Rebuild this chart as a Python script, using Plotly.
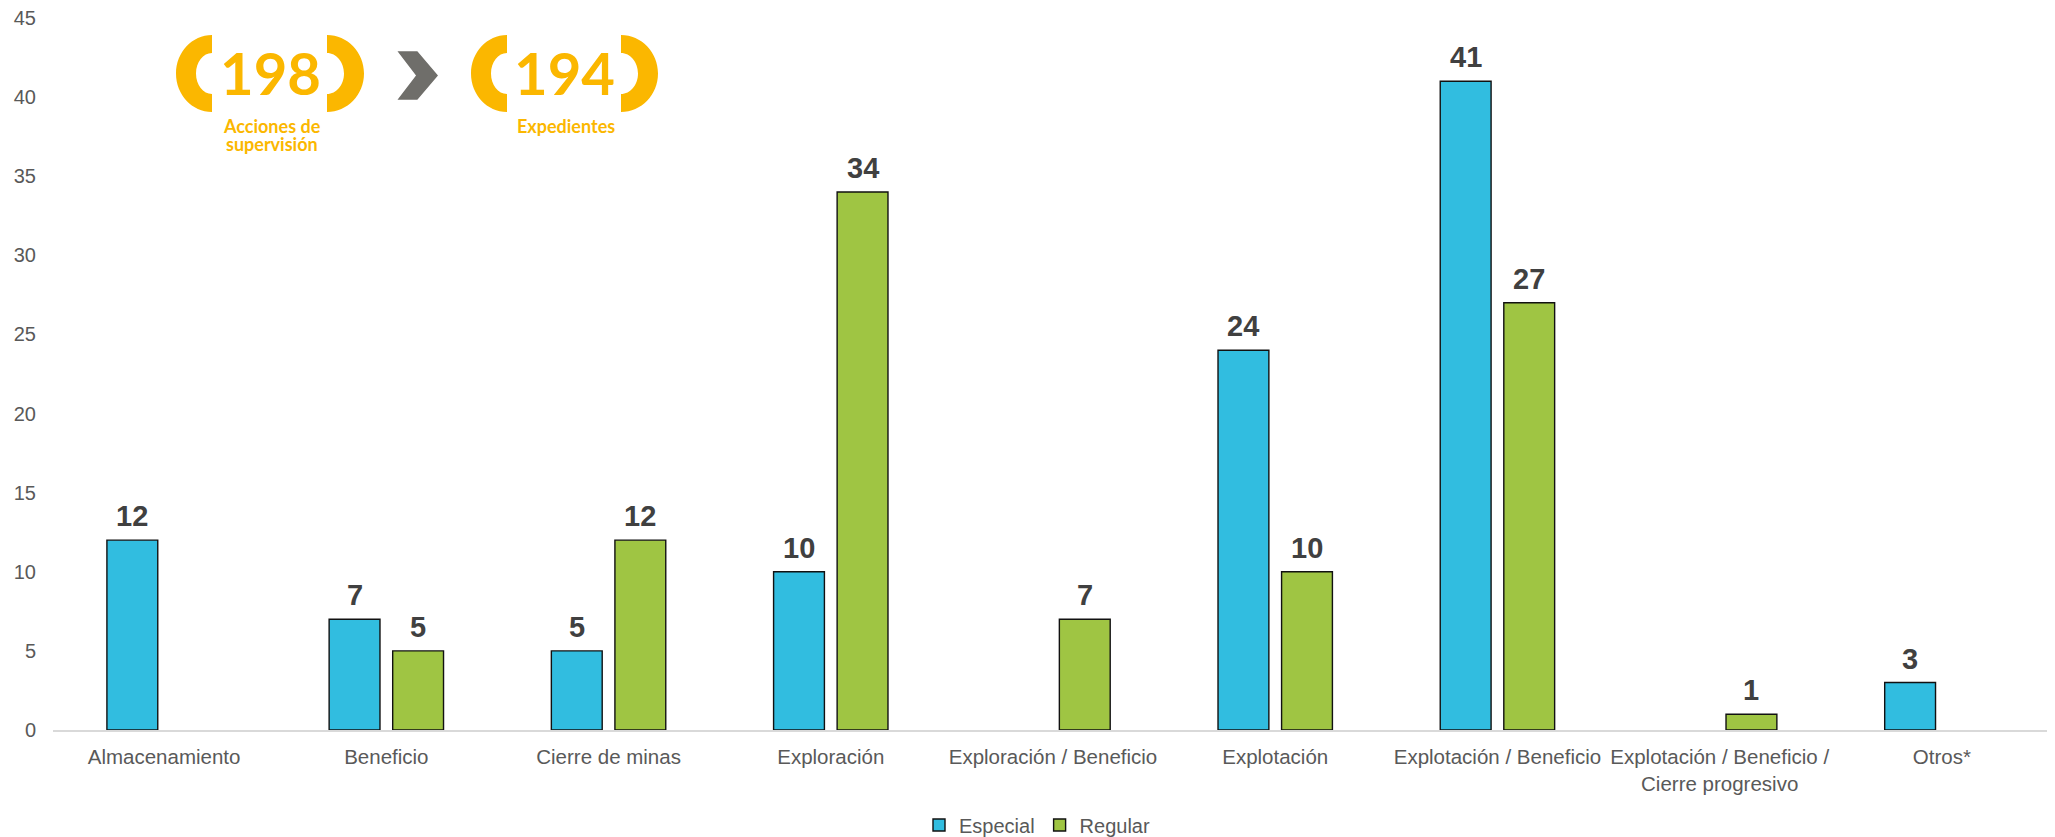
import plotly.graph_objects as go

# ── Data ────────────────────────────────────────────────────
categories = [
    "Almacenamiento", "Beneficio", "Cierre de minas", "Exploración",
    "Exploración / Beneficio", "Explotación", "Explotación / Beneficio",
    "Explotación / Beneficio /<br>Cierre progresivo", "Otros*",
]
especial = [12, 7, 5, 10, None, 24, 41, None, 3]
regular = [None, 5, 12, 34, 7, 10, 27, 1, None]

y_ticks = [0, 5, 10, 15, 20, 25, 30, 35, 40, 45]

# ── Style ───────────────────────────────────────────────────
BLUE = "#31BDE0"
GREEN = "#9FC543"
GOLD = "#FBB700"
CHEVRON = "#6F6E6A"
TICK_COLOR = "#595959"
LABEL_COLOR = "#404040"
FONT = "Liberation Sans, Arial, sans-serif"

# page has an 8px body margin -> figure sits at (8, 8)
OFF = 8
W, H = 2055 - OFF, 837 - OFF
L, R, T, B = 53 - OFF, 2, 18 - OFF, 107
PW, PH = W - L - R, H - T - B
SLOT = PW / len(categories) * (1 - 0.428) / 2   # half-group offset in px


def px(x, y):
    """page pixel position -> paper coordinates"""
    x, y = x - OFF, y - OFF
    return (x - L) / PW, (T + PH - y) / PH


def path(points):
    """points: list of (cmd, (x, y)) in page pixels"""
    out = []
    for cmd, (x, y) in points:
        a, b = px(x, y)
        out.append(f"{cmd}{a:.5f},{b:.5f}")
    return " ".join(out) + " Z"


def curve(p1, p2, p3):
    a = ["%.5f,%.5f" % px(*p) for p in (p1, p2, p3)]
    return "C" + " ".join(a)


def bracket(cut_x, top, bottom, outer_rx, inner_rx, end_h, side=-1):
    """thick half-ellipse bracket; side=-1 -> '(' , side=1 -> ')'"""
    k = 0.5523
    cy = (top + bottom) / 2
    ry = (bottom - top) / 2
    iry = ry - end_h
    ox = cut_x + side * outer_rx
    ix = cut_x + side * inner_rx
    parts = [
        "M%.5f,%.5f" % px(cut_x, top),
        curve((cut_x + side * k * outer_rx, top), (ox, cy - k * ry), (ox, cy)),
        curve((ox, cy + k * ry), (cut_x + side * k * outer_rx, bottom), (cut_x, bottom)),
        "L%.5f,%.5f" % px(cut_x, bottom - end_h),
        curve((cut_x + side * k * inner_rx, bottom - end_h), (ix, cy + k * iry), (ix, cy)),
        curve((ix, cy - k * iry), (cut_x + side * k * inner_rx, top + end_h), (cut_x, top + end_h)),
    ]
    return " ".join(parts) + " Z"


fig = go.Figure()

for name, vals, color in [("Especial", especial, BLUE), ("Regular", regular, GREEN)]:
    fig.add_trace(go.Bar(
        x=categories, y=vals, name=name,
        marker=dict(color=color, line=dict(color="#111111", width=1.4)),
        cliponaxis=False,
    ))

# ── Value labels above bars ─────────────────────────────────
annotations = []
for vals, shift in [(especial, -SLOT / 2), (regular, SLOT / 2)]:
    for cat, v in zip(categories, vals):
        if v is None:
            continue
        annotations.append(dict(
            x=cat, y=v, text=str(v), showarrow=False,
            xanchor="center", yanchor="bottom", xshift=shift, yshift=6,
            font=dict(family=FONT, size=29, color=LABEL_COLOR, weight="bold"),
        ))

# ── Logo block (198 > 194) ──────────────────────────────────
shapes = []
for lcut, rcut in [(212, 327), (507, 621)]:
    shapes.append(dict(type="path", xref="paper", yref="paper",
                       path=bracket(lcut, 35, 112, 36, 16, 18, side=-1),
                       fillcolor=GOLD, line=dict(width=0)))
    shapes.append(dict(type="path", xref="paper", yref="paper",
                       path=bracket(rcut, 35, 112, 37, 17, 18, side=1),
                       fillcolor=GOLD, line=dict(width=0)))

shapes.append(dict(
    type="path", xref="paper", yref="paper",
    path=path([("M", (399, 52)), ("L", (417, 52)), ("L", (437, 75.5)),
               ("L", (417, 99)), ("L", (399, 99)), ("L", (417, 75.5))]),
    fillcolor=CHEVRON, line=dict(color=CHEVRON, width=1.5),
))

for num, cx, subs in [("198", 270, ["Acciones de", "supervisión"]), ("194", 564, ["Expedientes"])]:
    ax, ay = px(cx, 72)
    annotations.append(dict(xref="paper", yref="paper", x=ax, y=ay, text=num,
                            showarrow=False, xanchor="center", yanchor="middle",
                            font=dict(family="Lato, sans-serif", size=58, color=GOLD, weight="bold")))
    for i, sub in enumerate(subs):
        sx, sy = px(cx + 2, 126 + 18 * i)
        annotations.append(dict(xref="paper", yref="paper", x=sx, y=sy, text=sub,
                                showarrow=False, xanchor="center", yanchor="middle",
                                font=dict(family="Lato, sans-serif", size=18, color=GOLD, weight="bold")))

lx, ly = px(1037, 825)

fig.update_layout(
    width=W, height=H,
    margin=dict(l=L, r=R, t=T, b=B, autoexpand=False),
    paper_bgcolor="white",
    plot_bgcolor="white",
    font=dict(family=FONT, color=TICK_COLOR, size=20),
    barmode="group",
    bargap=0.428,
    bargroupgap=0.2,
    showlegend=True,
    legend=dict(orientation="h", x=lx, y=ly, xanchor="center", yanchor="middle",
                font=dict(size=20, color=TICK_COLOR), itemwidth=30,
                traceorder="normal"),
    shapes=shapes,
    annotations=annotations,
    xaxis=dict(
        showline=True, linecolor="#D9D9D9", linewidth=1.5, automargin=False,
        showgrid=False, ticks="", ticklabelstandoff=8,
        tickfont=dict(size=20.5, color=TICK_COLOR),
    ),
    yaxis=dict(
        range=[0, 45], tickvals=y_ticks, showgrid=False, zeroline=False,
        showline=False, ticks="", ticklabelstandoff=16, automargin=False,
        ticklabeloverflow="allow",
        tickfont=dict(size=20, color=TICK_COLOR),
    ),
)

fig.write_html("out.html")
